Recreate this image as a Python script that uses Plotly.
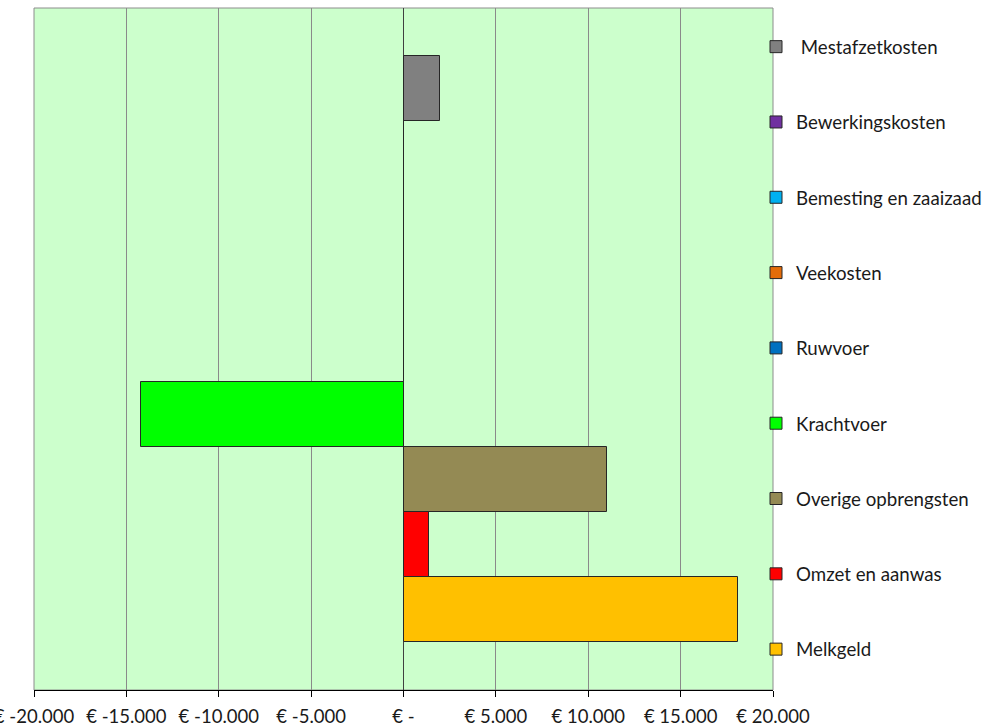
import plotly.graph_objects as go

categories = ["Melkgeld", "Omzet en aanwas", "Overige opbrengsten", "Krachtvoer",
              "Ruwvoer", "Veekosten", "Bemesting en zaaizaad", "Bewerkingskosten",
              " Mestafzetkosten"]
values = [18100, 1370, 11000, -14200, 0, 0, 0, 0, 2000]
colors = ["#FFC000", "#FF0000", "#948A54", "#00FF00", "#0070C0", "#E46C0A",
          "#00B0F0", "#7030A0", "#808080"]
tick_vals = [-20000, -15000, -10000, -5000, 0, 5000, 10000, 15000, 20000]
tick_text = ["€ -20.000", "€ -15.000", "€ -10.000", "€ -5.000", "€ -",
             "€ 5.000", "€ 10.000", "€ 15.000", "€ 20.000"]

W, H = 989, 727
ML, MT, MB = 34, 8, 37
PLOT_R = 773           # right edge of the plot area, px
LEGEND_L = 756         # left edge of the legend box, px
paper_w = W - ML

fig = go.Figure()
# add top-most series first so the legend lists them top to bottom
for i in reversed(range(len(categories))):
    fig.add_trace(go.Bar(
        y=[i], x=[values[i]], orientation="h", width=1, name=categories[i],
        legendgroup=categories[i],
        marker=dict(color=colors[i], line=dict(color="#262626", width=1)),
    ))

fig.update_layout(
    width=W, height=H,
    margin=dict(l=ML, r=0, t=MT, b=MB),
    paper_bgcolor="white", plot_bgcolor="#CCFFCC",
    font=dict(family="Lato", size=18.5, color="#1a1a1a"),
    showlegend=True,
    legend=dict(x=(LEGEND_L - ML) / paper_w, xanchor="left",
                y=1.0 - 20/682, yanchor="top",
                traceorder="grouped", tracegroupgap=48,
                font=dict(size=18.7),
                bgcolor="rgba(0,0,0,0)", itemclick=False),
    xaxis=dict(domain=[0, (PLOT_R - ML) / paper_w],
               range=[-20000, 20000], tickvals=tick_vals, ticktext=tick_text,
               showgrid=True, gridcolor="#8A8A8A", gridwidth=1,
               zeroline=True, zerolinecolor="#404040", zerolinewidth=1,
               showline=True, linecolor="black", linewidth=1,
               ticks="outside", ticklen=6, tickcolor="black",
               ticklabeloverflow="allow", ticklabelstandoff=4,
               automargin=False, fixedrange=True),
    yaxis=dict(range=[-1.245, 9.245], showticklabels=False, showgrid=False,
               zeroline=False, automargin=False, fixedrange=True),
    shapes=[dict(type="rect", xref="x domain", yref="y domain", x0=0, x1=1, y0=0, y1=1,
                 line=dict(color="#8C8C8C", width=1), fillcolor="rgba(0,0,0,0)",
                 layer="below")],
    bargap=0,
)

fig.write_html("out.html", config={"displayModeBar": False},
               post_script="document.body.style.margin='0';document.body.style.overflow='hidden';")
